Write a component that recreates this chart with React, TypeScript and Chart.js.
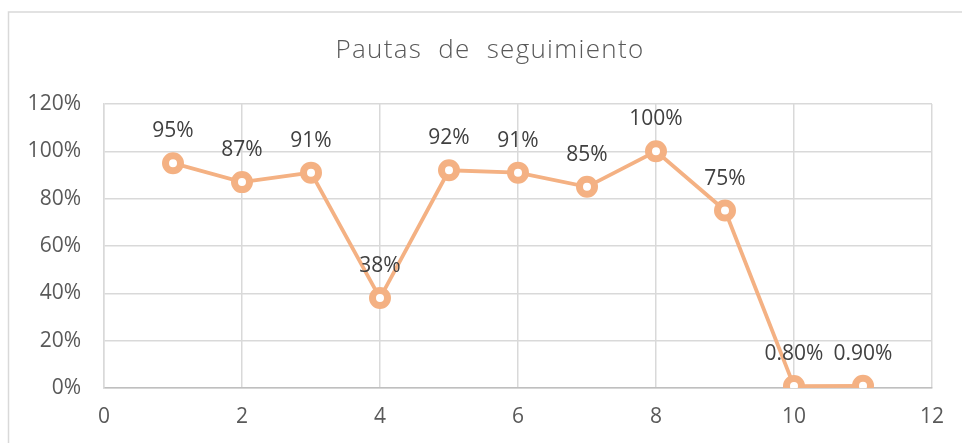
import React, { useEffect, useRef } from "react";
import { Chart, registerables } from "chart.js";

Chart.register(...registerables);

const TITLE = "Pautas de seguimiento";
const X_VALUES = [1, 2, 3, 4, 5, 6, 7, 8, 9, 10, 11];
const Y_VALUES = [0.95, 0.87, 0.91, 0.38, 0.92, 0.91, 0.85, 1.0, 0.75, 0.008, 0.009];
const X_MIN = 0;
const X_MAX = 12;
const X_STEP = 2;
const Y_MIN = 0;
const Y_MAX = 1.2;
const Y_STEP = 0.2;

const ORANGE = "#F4B183";
const FONT = "'Open Sans', 'DejaVu Sans', sans-serif";

function fmtLabel(v: number): string {
  return v >= 0.1 ? Math.round(v * 100) + "%" : (v * 100).toFixed(2) + "%";
}

const decorPlugin = {
  id: "decor",
  beforeDraw(chart: any) {
    const ctx = chart.ctx;
    ctx.save();
    ctx.fillStyle = "#ffffff";
    ctx.fillRect(0, 0, chart.width, chart.height);
    ctx.strokeStyle = "#D9D9D9";
    ctx.lineWidth = 1.5;
    ctx.strokeRect(8.5, 12, chart.width + 20, chart.height + 20);
    // title
    ctx.fillStyle = "#595959";
    ctx.font = `300 26px ${FONT}`;
    ctx.textBaseline = "alphabetic";
    ctx.textAlign = "center";
    (ctx as any).letterSpacing = "1.3px";
    (ctx as any).wordSpacing = "8px";
    ctx.fillText(TITLE, 490, 58);
    (ctx as any).letterSpacing = "0px";
    (ctx as any).wordSpacing = "0px";
    ctx.restore();
  },
  afterDatasetsDraw(chart: any) {
    const ctx = chart.ctx;
    const meta = chart.getDatasetMeta(0);
    ctx.save();
    ctx.fillStyle = "#404040";
    ctx.font = `21px ${FONT}`;
    ctx.textAlign = "center";
    ctx.textBaseline = "alphabetic";
    meta.data.forEach((pt: any, i: number) => {
      ctx.fillText(fmtLabel(Y_VALUES[i]), pt.x, pt.y - 26);
    });
    ctx.restore();
  },
};

export default function App() {
  const ref = useRef<HTMLCanvasElement | null>(null);
  useEffect(() => {
    if (!ref.current) return;
    const chart = new Chart(ref.current, {
      type: "scatter",
      data: {
        datasets: [
          {
            data: X_VALUES.map((x, i) => ({ x, y: Y_VALUES[i] })),
            showLine: true,
            borderColor: ORANGE,
            borderWidth: 3.8,
            pointRadius: 7.5,
            pointBorderWidth: 7,
            pointBackgroundColor: "#ffffff",
            pointBorderColor: ORANGE,
            pointHoverRadius: 7.5,
          },
        ],
      },
      options: {
        responsive: false,
        animation: false,
        layout: { padding: { top: 104, right: 30, left: 0, bottom: 0 } },
        plugins: {
          legend: { display: false },
          title: { display: false },
          tooltip: { enabled: false },
        },
        scales: {
          x: {
            type: "linear",
            min: X_MIN,
            max: X_MAX,
            afterFit: (s: any) => {
              s.height = 55;
            },
            ticks: {
              stepSize: X_STEP,
              color: "#595959",
              font: { family: FONT, size: 21 },
              padding: 16,
              maxRotation: 0,
            },
            grid: { color: "#D9D9D9", lineWidth: 1.5, drawTicks: false },
            border: { color: "#BFBFBF", width: 1.5 },
          },
          y: {
            type: "linear",
            min: Y_MIN,
            max: Y_MAX,
            afterFit: (s: any) => {
              s.width = 104;
            },
            ticks: {
              stepSize: Y_STEP,
              color: "#595959",
              font: { family: FONT, size: 21 },
              padding: 23,
              callback: (v: any) => Math.round(Number(v) * 100) + "%",
            },
            grid: { color: "#D9D9D9", lineWidth: 1.5, drawTicks: false },
            border: { color: "#D9D9D9", width: 1.5 },
          },
        },
      },
      plugins: [decorPlugin],
    });
    return () => chart.destroy();
  }, []);
  return (
    <div style={{ position: "fixed", left: 0, top: 0, width: 962, height: 443 }}>
      <canvas ref={ref} width={962} height={443} style={{ display: "block" }} />
    </div>
  );
}
